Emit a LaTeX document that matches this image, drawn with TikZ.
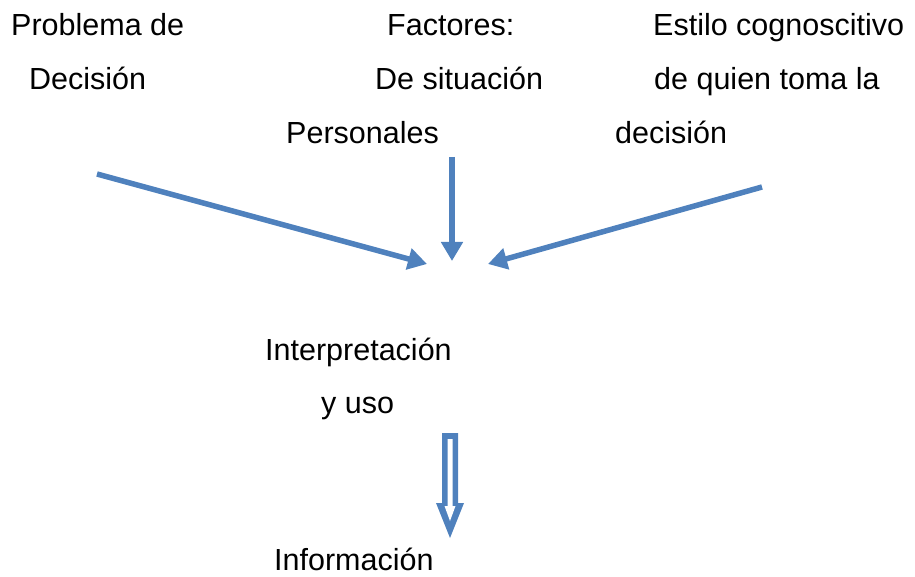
\documentclass[tikz,border=0pt]{standalone}
\usepackage{fontspec}
\setmainfont{Liberation Sans}
\usetikzlibrary{arrows.meta}
\definecolor{flowblue}{HTML}{4F81BD}
\tikzset{
  lbl/.style={anchor=base west, inner sep=0pt, font=\fontsize{30.5}{36}\selectfont},
  feed/.style={draw=flowblue, line width=5.5pt, -{Triangle[length=19pt,width=21pt]}},
}
\begin{document}
\begin{tikzpicture}[x=1pt,y=-1pt]
\useasboundingbox (0,0) rectangle (915,577);

% labels
\node[lbl] (p1) at (11,36) {Problema de};
\node[lbl] (p2) at (29,90) {Decisión};
\node[lbl] (f1) at (387,36) {Factores:};
\node[lbl] (f2) at (375,90) {De situación};
\node[lbl] (f3) at (286,144) {Personales};
\node[lbl] (e1) at (653,36) {Estilo cognoscitivo};
\node[lbl] (e2) at (654,90) {de quien toma la};
\node[lbl] (e3) at (615,144) {decisión};
\node[lbl] (i1) at (265,360) {Interpretación};
\node[lbl] (i2) at (321,413) {y uso};
\node[lbl] (o1) at (274,570) {Información};

% converging arrows
\coordinate (ls) at (97,174);
\coordinate (lt) at (427,264);
\coordinate (vs) at (452,157);
\coordinate (vt) at (452,261);
\coordinate (rs) at (762,187);
\coordinate (rt) at (488,264);
\draw[feed] (ls) -- (lt);
\draw[feed] (vs) -- (vt);
\draw[feed] (rs) -- (rt);

% hollow block arrow
\fill[flowblue] (442,433) -- (458,433) -- (458,503) -- (464,503) -- (450,538)
  -- (436,503) -- (442,503) -- cycle;
\fill[white] (447.5,439) -- (452.5,439) -- (452.5,506) -- (455.5,506) -- (450,521)
  -- (444.5,506) -- (447.5,506) -- cycle;
\end{tikzpicture}
\end{document}
